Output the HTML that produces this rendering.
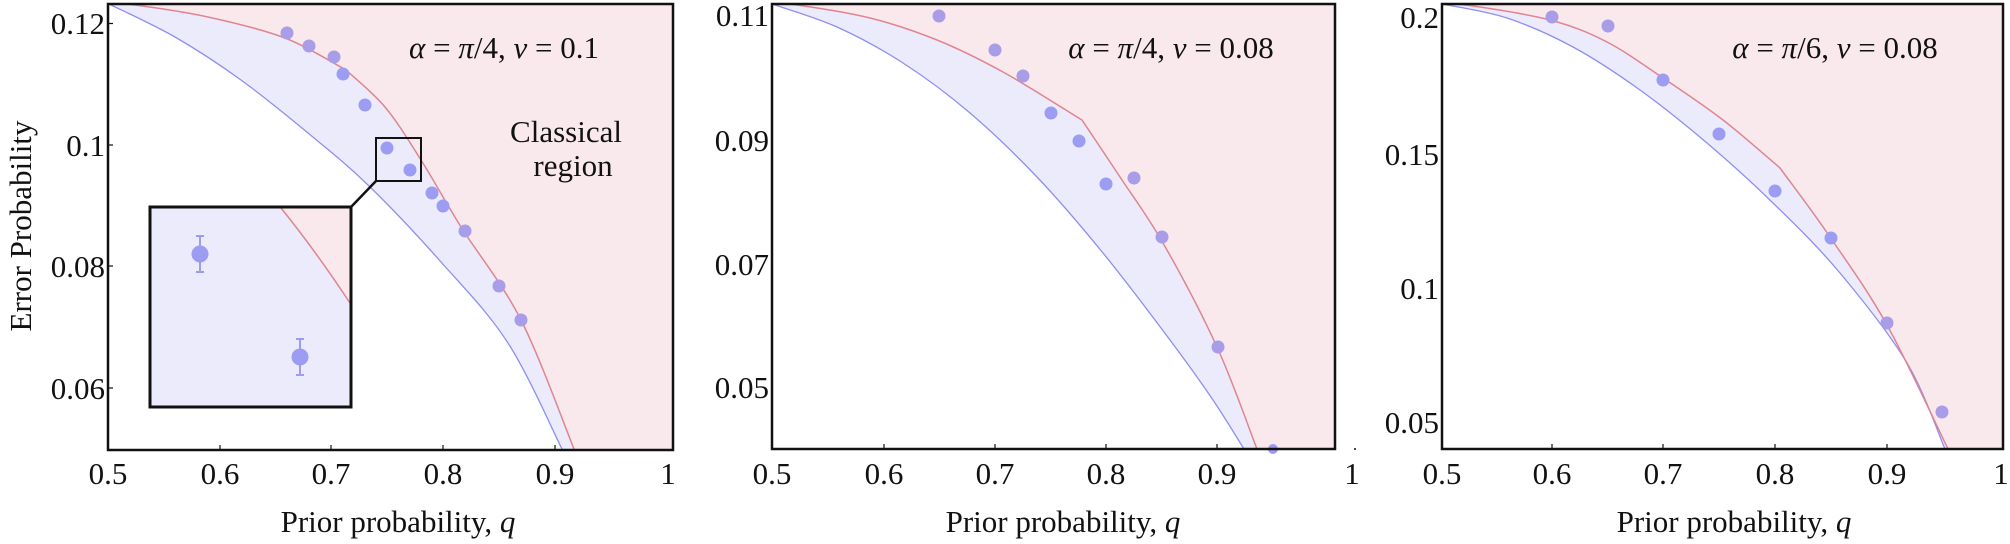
<!DOCTYPE html>
<html><head><meta charset="utf-8"><style>
html,body{margin:0;padding:0;background:#fff;}
svg{display:block;}
text{font-family:"Liberation Serif",serif;fill:#111;}
</style></head><body>
<svg id="s" width="2010" height="544" viewBox="0 0 2010 544" xmlns="http://www.w3.org/2000/svg">
<!-- Panel 1 -->
<g>
<path id="bf1" d="M111,5 L175,37 L241,80 L308,133 L368,185 L441,262 L508,343 L562,449 L673,449 L673,4 Z" fill="#ebebfb"/>
<path id="rf1" d="M109,4 L135,5 L208,17 L285,38 L346,70 L385,107 L421,160 L461,227 L521,320 L574,449 L673,449 L673,4 Z" fill="#f9e9ec"/>
<path id="bl1" d="M111,5 L175,37 L241,80 L308,133 L368,185 L441,262 L508,343 L562,449" fill="none" stroke="#8f8ff0" stroke-width="1.3"/>
<path id="rl1" d="M109,4 L135,5 L208,17 L285,38 L346,70 L385,107 L421,160 L461,227 L521,320 L574,449" fill="none" stroke="#e08590" stroke-width="1.5"/>
<g fill="#a89de6">
<circle cx="287" cy="33" r="6.5"/><circle cx="309" cy="46" r="6.5"/><circle cx="334" cy="57" r="6.5"/>
<circle cx="465" cy="231" r="6.5"/><circle cx="499" cy="286" r="6.5"/><circle cx="521" cy="320" r="6.5"/>
</g>
<g fill="#9c9cf3">
<circle cx="343" cy="74" r="6.5"/><circle cx="365" cy="105" r="6.5"/><circle cx="387" cy="148" r="6.5"/><circle cx="410" cy="170" r="6.5"/>
<circle cx="432" cy="193" r="6.5"/><circle cx="443" cy="206" r="6.5"/>
</g>
<rect x="376" y="138" width="45" height="43" fill="none" stroke="#111" stroke-width="2"/>
<line x1="351" y1="207" x2="376" y2="181" stroke="#111" stroke-width="2.5"/>
<rect x="150" y="207" width="201" height="200" fill="#ebebfb"/>
<path d="M281,208 L351,208 L351,303 Q315,250 281,208 Z" fill="#f9e9ec"/>
<path d="M281,208 Q315,250 350,303" fill="none" stroke="#e08590" stroke-width="1.5"/>
<g stroke="#9c9cf3" stroke-width="2" fill="#9c9cf3">
<line x1="200" y1="236" x2="200" y2="272"/><line x1="196" y1="236" x2="204" y2="236"/><line x1="196" y1="272" x2="204" y2="272"/>
<ellipse cx="200" cy="254" rx="7.5" ry="7.5"/>
<line x1="300" y1="339" x2="300" y2="375"/><line x1="296" y1="339" x2="304" y2="339"/><line x1="296" y1="375" x2="304" y2="375"/>
<ellipse cx="300" cy="357" rx="7.5" ry="7.5"/>
</g>
<rect x="150" y="207" width="201" height="200" fill="none" stroke="#111" stroke-width="3"/>
<rect x="108" y="4" width="565" height="446" fill="none" stroke="#111" stroke-width="2.5"/>
<g stroke="#111" stroke-width="1.2">
<line x1="220" y1="450" x2="220" y2="445"/><line x1="331" y1="450" x2="331" y2="445"/><line x1="443" y1="450" x2="443" y2="445"/><line x1="555" y1="450" x2="555" y2="445"/>
<line x1="108" y1="23.5" x2="113" y2="23.5"/><line x1="108" y1="145" x2="113" y2="145"/><line x1="108" y1="266" x2="113" y2="266"/><line x1="108" y1="388" x2="113" y2="388"/>
</g>
<g font-size="31" text-anchor="end">
<text x="105" y="34">0.12</text><text x="105" y="156">0.1</text><text x="105" y="277">0.08</text><text x="105" y="399">0.06</text>
</g>
<g font-size="31" text-anchor="middle">
<text x="108" y="484">0.5</text><text x="220" y="484">0.6</text><text x="331" y="484">0.7</text><text x="443" y="484">0.8</text><text x="555" y="484">0.9</text><text x="668" y="484">1</text>
<text x="398" y="532">Prior probability, <tspan font-style="italic">q</tspan></text>
<text x="566" y="142">Classical</text><text x="573" y="176">region</text>
</g>
<text font-size="31" x="504" y="58" text-anchor="middle"><tspan font-style="italic">α</tspan> = <tspan font-style="italic">π</tspan>/4, <tspan font-style="italic">v</tspan> = 0.1</text>
<text font-size="31" text-anchor="middle" transform="translate(31,226) rotate(-90)">Error Probability</text>
</g>
<!-- Panel 2 -->
<g>
<path id="bf2" d="M773,5 L837,27 L903,63 L970,113 L1037,177 L1103,253 L1170,340 L1213,400 L1244,449 L1335,449 L1335,4 Z" fill="#ebebfb"/>
<path id="rf2" d="M772,4 L797,5 L870,18 L937,40 L1003,72 L1082,120 L1120,177 L1163,243 L1217,347 L1257,449 L1335,449 L1335,4 Z" fill="#f9e9ec"/>
<path id="bl2" d="M773,5 L837,27 L903,63 L970,113 L1037,177 L1103,253 L1170,340 L1213,400 L1244,449" fill="none" stroke="#8f8ff0" stroke-width="1.3"/>
<path id="rl2" d="M772,4 L797,5 L870,18 L937,40 L1003,72 L1082,120 L1120,177 L1163,243 L1217,347 L1257,449" fill="none" stroke="#e08590" stroke-width="1.5"/>
<g fill="#a89de6"><circle cx="939" cy="16" r="6.5"/><circle cx="995" cy="50" r="6.5"/><circle cx="1023" cy="76" r="6.5"/><circle cx="1134" cy="178" r="6.5"/><circle cx="1162" cy="237" r="6.5"/><circle cx="1218" cy="347" r="6.5"/></g>
<g fill="#9c9cf3"><circle cx="1051" cy="113" r="6.5"/><circle cx="1079" cy="141" r="6.5"/><circle cx="1106" cy="184" r="6.5"/><circle cx="1273" cy="449" r="5"/></g>
<rect x="772" y="4" width="563" height="445" fill="none" stroke="#111" stroke-width="2.5"/>
<g stroke="#111" stroke-width="1.2">
<line x1="884" y1="449" x2="884" y2="444"/><line x1="995" y1="449" x2="995" y2="444"/><line x1="1106" y1="449" x2="1106" y2="444"/><line x1="1217" y1="449" x2="1217" y2="444"/>
</g>
<circle cx="1355" cy="449" r="1" fill="#111"/>
<g font-size="31" text-anchor="end">
<text x="769" y="26">0.11</text><text x="769" y="151">0.09</text><text x="769" y="275">0.07</text><text x="769" y="398">0.05</text>
</g>
<g font-size="31" text-anchor="middle">
<text x="772" y="484">0.5</text><text x="884" y="484">0.6</text><text x="995" y="484">0.7</text><text x="1106" y="484">0.8</text><text x="1217" y="484">0.9</text><text x="1352" y="484">1</text>
<text x="1063" y="532">Prior probability, <tspan font-style="italic">q</tspan></text>
</g>
<text font-size="31" x="1171" y="58" text-anchor="middle"><tspan font-style="italic">α</tspan> = <tspan font-style="italic">π</tspan>/4, <tspan font-style="italic">v</tspan> = 0.08</text>
</g>
<!-- Panel 3 -->
<g>
<path id="bf3" d="M1443,5 L1507,18 L1573,47 L1640,90 L1707,143 L1773,203 L1840,273 L1907,363 L1945,449 L2003,449 L2003,4 Z" fill="#ebebfb"/>
<path id="rf3" d="M1442,4 L1473,6 L1550,20 L1607,42 L1663,78 L1723,120 L1780,168 L1830,237 L1887,325 L1948,449 L2003,449 L2003,4 Z" fill="#f9e9ec"/>
<path id="bl3" d="M1443,5 L1507,18 L1573,47 L1640,90 L1707,143 L1773,203 L1840,273 L1907,363 L1945,449" fill="none" stroke="#8f8ff0" stroke-width="1.3"/>
<path id="rl3" d="M1442,4 L1473,6 L1550,20 L1607,42 L1663,78 L1723,120 L1780,168 L1830,237 L1887,325 L1948,449" fill="none" stroke="#e08590" stroke-width="1.5"/>
<g fill="#a89de6"><circle cx="1552" cy="17" r="6.5"/><circle cx="1608" cy="26" r="6.5"/><circle cx="1887" cy="323" r="6.5"/><circle cx="1942" cy="412" r="6.5"/></g>
<g fill="#9c9cf3"><circle cx="1663" cy="80" r="6.5"/><circle cx="1719" cy="134" r="6.5"/><circle cx="1775" cy="191" r="6.5"/><circle cx="1831" cy="238" r="6.5"/></g>
<rect x="1442" y="4" width="561" height="445" fill="none" stroke="#111" stroke-width="2.5"/>
<g stroke="#111" stroke-width="1.2">
<line x1="1552" y1="449" x2="1552" y2="444"/><line x1="1663" y1="449" x2="1663" y2="444"/><line x1="1775" y1="449" x2="1775" y2="444"/><line x1="1887" y1="449" x2="1887" y2="444"/>
</g>
<g font-size="31" text-anchor="end">
<text x="1439" y="28">0.2</text><text x="1439" y="165">0.15</text><text x="1439" y="299">0.1</text><text x="1439" y="433">0.05</text>
</g>
<g font-size="31" text-anchor="middle">
<text x="1442" y="484">0.5</text><text x="1552" y="484">0.6</text><text x="1663" y="484">0.7</text><text x="1775" y="484">0.8</text><text x="1887" y="484">0.9</text><text x="2001" y="484">1</text>
<text x="1734" y="532">Prior probability, <tspan font-style="italic">q</tspan></text>
</g>
<text font-size="31" x="1835" y="58" text-anchor="middle"><tspan font-style="italic">α</tspan> = <tspan font-style="italic">π</tspan>/6, <tspan font-style="italic">v</tspan> = 0.08</text>
</g>
</svg>
<script>
(function(){
function cr(p){
  var d="";
  for(var i=0;i<p.length-1;i++){
    var p0=p[i>0?i-1:i],p1=p[i],p2=p[i+1],p3=p[i+2<p.length?i+2:i+1];
    var c1=[p1[0]+(p2[0]-p0[0])/6,p1[1]+(p2[1]-p0[1])/6];
    var c2=[p2[0]-(p3[0]-p1[0])/6,p2[1]-(p3[1]-p1[1])/6];
    d+=" C"+c1[0].toFixed(1)+","+c1[1].toFixed(1)+" "+c2[0].toFixed(1)+","+c2[1].toFixed(1)+" "+p2[0]+","+p2[1];
  }
  return d;
}
var P=[
 {B:[[109,4],[175,37],[241,80],[308,133],[368,185],[441,262],[508,343],[562,449]],
  R1:[[109,4],[135,5],[208,17],[285,38],[346,70]],R2:[[346,70],[385,107],[421,160],[461,227],[521,320],[574,449]],xr:673,yb:449,yt:4},
 {B:[[772,4],[837,27],[903,63],[970,113],[1037,177],[1103,253],[1170,340],[1213,400],[1244,449]],
  R1:[[772,4],[797,5],[870,18],[937,40],[1003,72],[1082,120]],R2:[[1082,120],[1120,177],[1163,243],[1217,347],[1257,449]],xr:1335,yb:449,yt:4},
 {B:[[1442,4],[1507,18],[1573,47],[1640,90],[1707,143],[1773,203],[1840,273],[1907,363],[1945,449]],
  R1:[[1442,4],[1473,6],[1550,20],[1607,42],[1663,78],[1723,120],[1780,168]],R2:[[1780,168],[1830,237],[1887,325],[1948,449]],xr:2003,yb:449,yt:4}
];
for(var k=0;k<3;k++){
  var q=P[k];
  var bd="M"+q.B[0][0]+","+q.B[0][1]+cr(q.B);
  var rd="M"+q.R1[0][0]+","+q.R1[0][1]+cr(q.R1)+cr(q.R2);
  var cl=" L"+q.xr+","+q.yb+" L"+q.xr+","+q.yt+" Z";
  document.getElementById("bl"+(k+1)).setAttribute("d",bd);
  document.getElementById("rl"+(k+1)).setAttribute("d",rd);
  document.getElementById("bf"+(k+1)).setAttribute("d",bd+cl);
  document.getElementById("rf"+(k+1)).setAttribute("d",rd+cl);
}
})();
</script>
</body></html>
